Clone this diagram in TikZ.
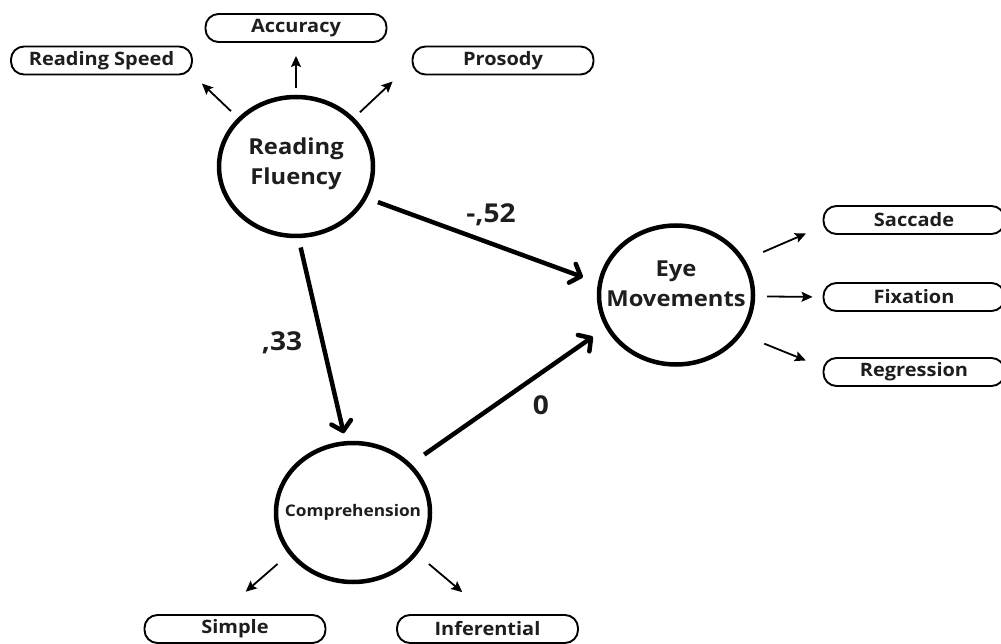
\documentclass[tikz,border=0pt]{standalone}
\usepackage{fontspec}
\setmainfont{Open Sans}[FakeStretch=1.08]
\usetikzlibrary{arrows.meta,shapes.geometric}
\definecolor{ink}{RGB}{30,30,30}
\begin{document}
\begin{tikzpicture}[x=1pt,y=-1pt,
  latent/.style={ellipse, draw=black, line width=4.5pt, minimum width=154pt, minimum height=139pt, inner sep=0pt, text=ink},
  bigtext/.style={font=\bfseries\fontsize{22}{30}\selectfont},
  obsbox/.style={rectangle, rounded corners=13pt, draw=black, line width=1.9pt, minimum width=181pt, minimum height=28pt, inner sep=0pt, text=ink, font=\bfseries\fontsize{18.5}{20}\selectfont},
  bigarrow/.style={line width=4.5pt, -{Straight Barb[length=9pt,width=20pt,round]}},
  smallarrow/.style={line width=1.8pt, -{Stealth[length=11pt,width=10pt,inset=2pt]}},
  coef/.style={font=\bfseries\fontsize{26}{28}\selectfont, text=ink, inner sep=0pt}]
\fill[white] (0,0) rectangle (1001,644);
\useasboundingbox (0,0) rectangle (1001,644);
% latent variables
\node[latent, bigtext] (rf) at (296,166.5) {\raisebox{-2pt}[0pt][0pt]{\makebox[0pt]{\begin{tabular}{@{}c@{}}Reading\\Fluency\end{tabular}}}};
\node[latent, bigtext] (em) at (676,295) {\raisebox{4pt}[0pt][0pt]{\makebox[0pt]{\begin{tabular}{@{}c@{}}Eye\\Movements\end{tabular}}}};
\node[latent, font=\bfseries\fontsize{16}{18}\selectfont] (comp) at (353,512.5) {\makebox[0pt]{Comprehension}};
% indicators
\node[obsbox] (rs) at (101.5,60.5) {Reading Speed};
\node[obsbox] (acc) at (296,28) {Accuracy};
\node[obsbox] (pros) at (503,60.5) {Prosody};
\node[obsbox] (sac) at (914,220) {Saccade};
\node[obsbox] (fix) at (914,297) {Fixation};
\node[obsbox] (reg) at (914,372) {Regression};
\node[obsbox] (simp) at (235,629) {Simple};
\node[obsbox] (inf) at (487.5,629) {Inferential};
% indicator arrows
\draw[smallarrow, shorten <=9.5pt, shorten >=12.4pt] (rf.140.7) -- (rs.-9.8);
\draw[smallarrow, shorten <=7pt, shorten >=13pt] (rf.90) -- (acc.south);
\draw[smallarrow, shorten <=8pt, shorten >=26pt] (rf.40.2) -- (pros.182.8);
\draw[smallarrow, shorten <=19.7pt, shorten >=18pt] (em.27.6) -- (sac.184.2);
\draw[smallarrow, shorten <=12pt, shorten >=10pt] (em.-1) -- (fix.180);
\draw[smallarrow, shorten <=24pt, shorten >=18pt] (em.-31.6) -- (reg.177.9);
\draw[smallarrow, shorten <=14.7pt, shorten >=34pt] (comp.213.9) -- (simp.135.8);
\draw[smallarrow, shorten <=15pt, shorten >=34pt] (comp.-33) -- (inf.87);
% structural paths
\draw[bigarrow, shorten <=11.5pt, shorten >=16pt] (rf.-24.5) -- (em.171.5);
\draw[bigarrow, shorten <=9.5pt, shorten >=8pt] (rf.-88.6) -- (comp.96.4);
\draw[bigarrow, shorten <=16pt, shorten >=15.5pt] (comp.40.4) -- (em.205);
% coefficients
\node[coef] (c52) at (491,215) {-,52};
\node[coef] (c33) at (282,343) {,33};
\node[coef] (c0) at (541,405) {0};
\end{tikzpicture}
\end{document}
